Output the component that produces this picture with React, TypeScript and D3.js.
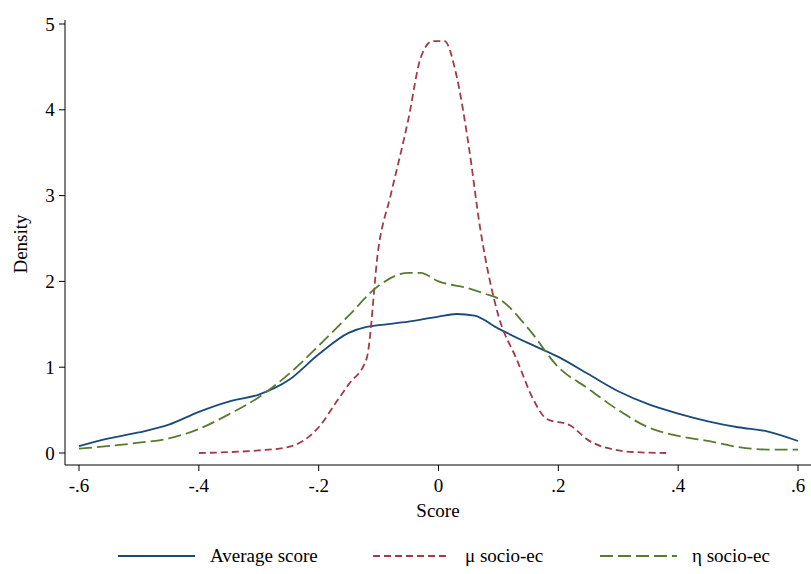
import React from "react";
import * as d3 from "d3";

const avgX = [-0.6,-0.55,-0.5,-0.45,-0.4,-0.35,-0.3,-0.25,-0.2,-0.15,-0.12,-0.1,-0.05,0,0.03,0.06,0.1,0.15,0.2,0.25,0.3,0.35,0.4,0.45,0.5,0.55,0.6];
const avgY = [0.08,0.17,0.24,0.33,0.48,0.6,0.68,0.85,1.15,1.4,1.47,1.49,1.53,1.59,1.62,1.6,1.45,1.28,1.12,0.92,0.72,0.57,0.46,0.37,0.3,0.25,0.14];
const muX = [-0.4,-0.35,-0.3,-0.25,-0.2,-0.17,-0.15,-0.12,-0.1,-0.08,-0.05,-0.03,-0.01,0.01,0.03,0.05,0.07,0.1,0.13,0.16,0.18,0.22,0.25,0.3,0.33,0.38];
const muY = [0,0.01,0.03,0.07,0.3,0.6,0.8,1.1,2.4,3.0,3.9,4.6,4.8,4.8,4.4,3.6,2.6,1.6,1.1,0.6,0.4,0.32,0.15,0.03,0.01,0];
const etaX = [-0.6,-0.5,-0.45,-0.4,-0.35,-0.3,-0.25,-0.2,-0.15,-0.1,-0.05,-0.03,0,0.05,0.08,0.1,0.15,0.2,0.25,0.3,0.35,0.4,0.45,0.5,0.55,0.6];
const etaY = [0.05,0.12,0.17,0.28,0.45,0.65,0.92,1.25,1.6,1.95,2.1,2.1,2.0,1.92,1.85,1.8,1.45,1.0,0.75,0.5,0.3,0.2,0.14,0.07,0.04,0.04];
const xTicks = [-0.6,-0.4,-0.2,0,0.2,0.4,0.6];
const yTicks = [0,1,2,3,4,5];
const legend = ["Average score", "μ socio-ec", "η socio-ec"];

const font = "'Liberation Serif', 'DejaVu Serif', serif";

export default function App() {
  const x = d3.scaleLinear().domain([-0.6, 0.6]).range([79, 798]);
  const y = d3.scaleLinear().domain([0, 5]).range([453, 24]);
  const line = (xs: number[], ys: number[]) =>
    d3.line<number>().x((_, i) => x(xs[i])).y((d) => y(d)).curve(d3.curveMonotoneX)(ys)!;
  const series = [
    { d: line(avgX, avgY), c: "#1a4a7a", dash: "", w: 1.8 },
    { d: line(muX, muY), c: "#a33a48", dash: "7 4", w: 1.8 },
    { d: line(etaX, etaY), c: "#5a7a2e", dash: "13 5", w: 1.8 },
  ];
  const fmt = (v: number) => (v === 0 ? "0" : (v < 0 ? "-" : "") + "." + Math.round(Math.abs(v) * 10));
  const legX = [118, 373, 600];
  return (
    <svg width={811} height={574} style={{ position: "absolute", left: 0, top: 0 }} fontFamily={font}>
      <rect width={811} height={574} fill="#fff" />
      <line x1={65} x2={65} y1={20} y2={465} stroke="#000" />
      <line x1={65} x2={811} y1={465} y2={465} stroke="#000" />
      {yTicks.map((t) => (
        <g key={t}>
          <line x1={59} x2={65} y1={y(t)} y2={y(t)} stroke="#000" />
          <text x={50} y={y(t)} fontSize={19} textAnchor="middle" dominantBaseline="central">{t}</text>
        </g>
      ))}
      {xTicks.map((t) => (
        <g key={t}>
          <line x1={x(t)} x2={x(t)} y1={465} y2={471} stroke="#000" />
          <text x={x(t)} y={492} fontSize={19} textAnchor="middle">{fmt(t)}</text>
        </g>
      ))}
      <text x={438} y={517} fontSize={19} textAnchor="middle">Score</text>
      <text transform="translate(27,244) rotate(-90)" fontSize={19} textAnchor="middle">Density</text>
      {series.map((s, i) => (
        <path key={i} d={s.d} fill="none" stroke={s.c} strokeWidth={s.w} strokeDasharray={s.dash} />
      ))}
      {series.map((s, i) => (
        <g key={i}>
          <line x1={legX[i]} x2={legX[i] + 77} y1={556} y2={556} stroke={s.c} strokeWidth={s.w} strokeDasharray={s.dash} />
          <text x={legX[i] + 92} y={562} fontSize={19}>{legend[i]}</text>
        </g>
      ))}
    </svg>
  );
}
